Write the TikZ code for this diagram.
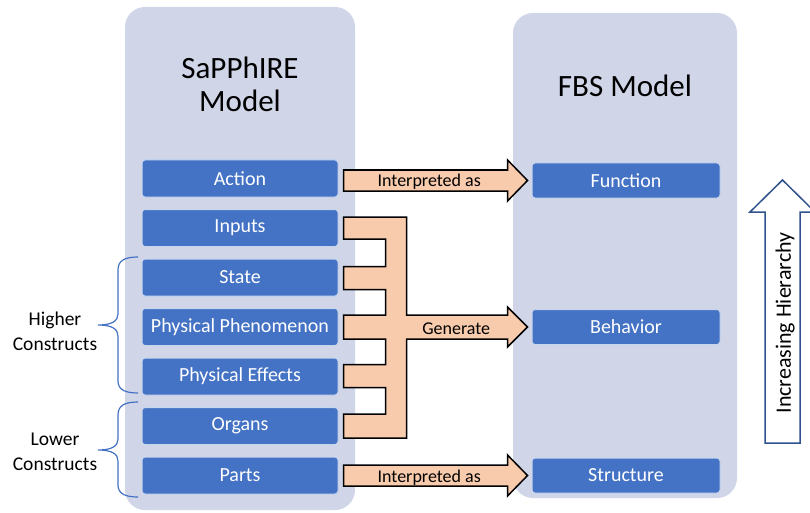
\documentclass[tikz,border=0pt]{standalone}
\usepackage{fontspec}
\setmainfont{Carlito}
\usetikzlibrary{calc,positioning}
\definecolor{panelbg}{HTML}{D0D5E8}
\definecolor{boxblue}{HTML}{4472C4}
\definecolor{peach}{HTML}{F8CBAD}
\definecolor{darkblue}{HTML}{2F528F}
\tikzset{panel/.style={fill=panelbg, rounded corners=20pt}, construct/.style={rectangle, rounded corners=3pt, fill=boxblue, draw=white!70!boxblue, line width=1pt, text=white, minimum width=196pt, minimum height=37pt, inner sep=0pt, font=\fontsize{20}{22}\selectfont}, fbsbox/.style={construct, minimum width=188pt, minimum height=35pt}, flow/.style={fill=peach, draw=black, line width=1.5pt, line join=miter}, flowtext/.style={font=\fontsize{18}{20}\selectfont, inner sep=0pt}, title/.style={font=\fontsize{31}{33}\selectfont, align=center}, sidetext/.style={font=\fontsize{19.5}{25}\selectfont, align=center}, bracket/.style={draw=boxblue, line width=1.2pt}}

\begin{document}
\begin{tikzpicture}[x=1pt,y=-1pt]
    \useasboundingbox (0,0) rectangle (810,513);
    % panels
    \fill[panel] (125,7) rectangle (355,510);
    \fill[panel] (513,13) rectangle (737,498);
    \node[title] (sapphire) at (240,84) {SaPPhIRE\\Model};
    \node[title] (fbs) at (625,86) {FBS Model};
    % SaPPhIRE constructs
    \node[construct] (action) at (240,178.5) {Action};
    \node[construct,below=11.5pt of action] (inputs) {Inputs};
    \node[construct,below=11.5pt of inputs] (state) {State};
    \node[construct,below=11.5pt of state] (phen) {Physical Phenomenon};
    \node[construct,below=11.5pt of phen] (effects) {Physical Effects};
    \node[construct,below=11.5pt of effects] (organs) {Organs};
    \node[construct,below=11.5pt of organs] (parts) {Parts};
    % FBS constructs
    \node[fbsbox] (function) at (626,180.5) {Function};
    \node[fbsbox] (behavior) at (function |- phen) {Behavior};
    \node[fbsbox] (structure) at (function |- parts) {Structure};
    % block arrows
    \path[flow] let \p1 = (action.east), \p2 = (function.west) in (\x1+5pt,\y2+10.5pt) -- (\x2-24pt,\y2+10.5pt) -- (\x2-24pt,\y2+20.5pt) -- (\x2-4pt,\y2) -- (\x2-24pt,\y2-20.5pt) -- (\x2-24pt,\y2-10.5pt) -- (\x1+5pt,\y2-10.5pt) -- cycle;
    \path[flow] let \p1 = (parts.east), \p2 = (structure.west) in (\x1+5pt,\y2+10.5pt) -- (\x2-24pt,\y2+10.5pt) -- (\x2-24pt,\y2+20.5pt) -- (\x2-4pt,\y2) -- (\x2-24pt,\y2-20.5pt) -- (\x2-24pt,\y2-10.5pt) -- (\x1+5pt,\y2-10.5pt) -- cycle;
    \path[flow] let \p1 = (inputs.east), \p2 = (state.east), \p3 = (phen.east), \p4 = (effects.east), \p5 = (organs.east), \p6 = (behavior.west) in
        (\x1+5pt,\y1+11pt) -- (\x1+68pt,\y1+11pt) -- (\x1+68pt,\y3+12pt) -- (\x6-24pt,\y3+12pt) -- (\x6-24pt,\y3+20pt) -- (\x6-4pt,\y3) -- (\x6-24pt,\y3-20pt) -- (\x6-24pt,\y3-12pt) -- (\x1+68pt,\y3-12pt) -- (\x1+68pt,\y5-12pt) -- (\x1+5pt,\y5-12pt) -- (\x1+5pt,\y5+12pt) -- (\x1+47pt,\y5+12pt) -- (\x1+47pt,\y4-11pt) -- (\x1+5pt,\y4-11pt) -- (\x1+5pt,\y4+12pt) -- (\x1+47pt,\y4+12pt) -- (\x1+47pt,\y3-12pt) -- (\x1+5pt,\y3-12pt) -- (\x1+5pt,\y3+12pt) -- (\x1+47pt,\y3+12pt) -- (\x1+47pt,\y2-12pt) -- (\x1+5pt,\y2-12pt) -- (\x1+5pt,\y2+11pt) -- (\x1+47pt,\y2+11pt) -- (\x1+47pt,\y1-11pt) -- (\x1+5pt,\y1-11pt) -- cycle;
    \node[flowtext,yshift=-2pt] (interp1) at ($(action.east)!0.47!(function.west)$) {Interpreted as};
    \node[flowtext,yshift=-2pt] (interp2) at ($(parts.east)!0.47!(structure.west)$) {Interpreted as};
    \node[flowtext,yshift=-2pt] (generate) at ($(phen.east)!0.61!(behavior.west)$) {Generate};
    % braces
    \draw[bracket] (138,257) .. controls (124,257) and (118,261) .. (118,270) -- (118,314) .. controls (118,321) and (112,325) .. (98,325) .. controls (112,325) and (118,329) .. (118,336) -- (118,381) .. controls (118,389) and (124,393) .. (138,393);
    \draw[bracket] (138,402) .. controls (124,402) and (118,406) .. (118,415) -- (118,439) .. controls (118,446) and (112,450) .. (98,450) .. controls (112,450) and (118,454) .. (118,461) -- (118,485) .. controls (118,493) and (124,497) .. (138,497);
    \node[sidetext] (higher) at (55,331) {Higher\\Constructs};
    \node[sidetext] (lower) at (55,452) {Lower\\Constructs};
    % hierarchy arrow
    \draw[darkblue, line width=1.5pt, fill=white] (765,443) -- (765,212) -- (750,212) -- (782.5,180) -- (815,212) -- (800,212) -- (800,443) -- cycle;
    \node[rotate=90, font=\fontsize{22}{24}\selectfont] (hierarchy) at (785,323) {Increasing Hierarchy};
\end{tikzpicture}
\end{document}
